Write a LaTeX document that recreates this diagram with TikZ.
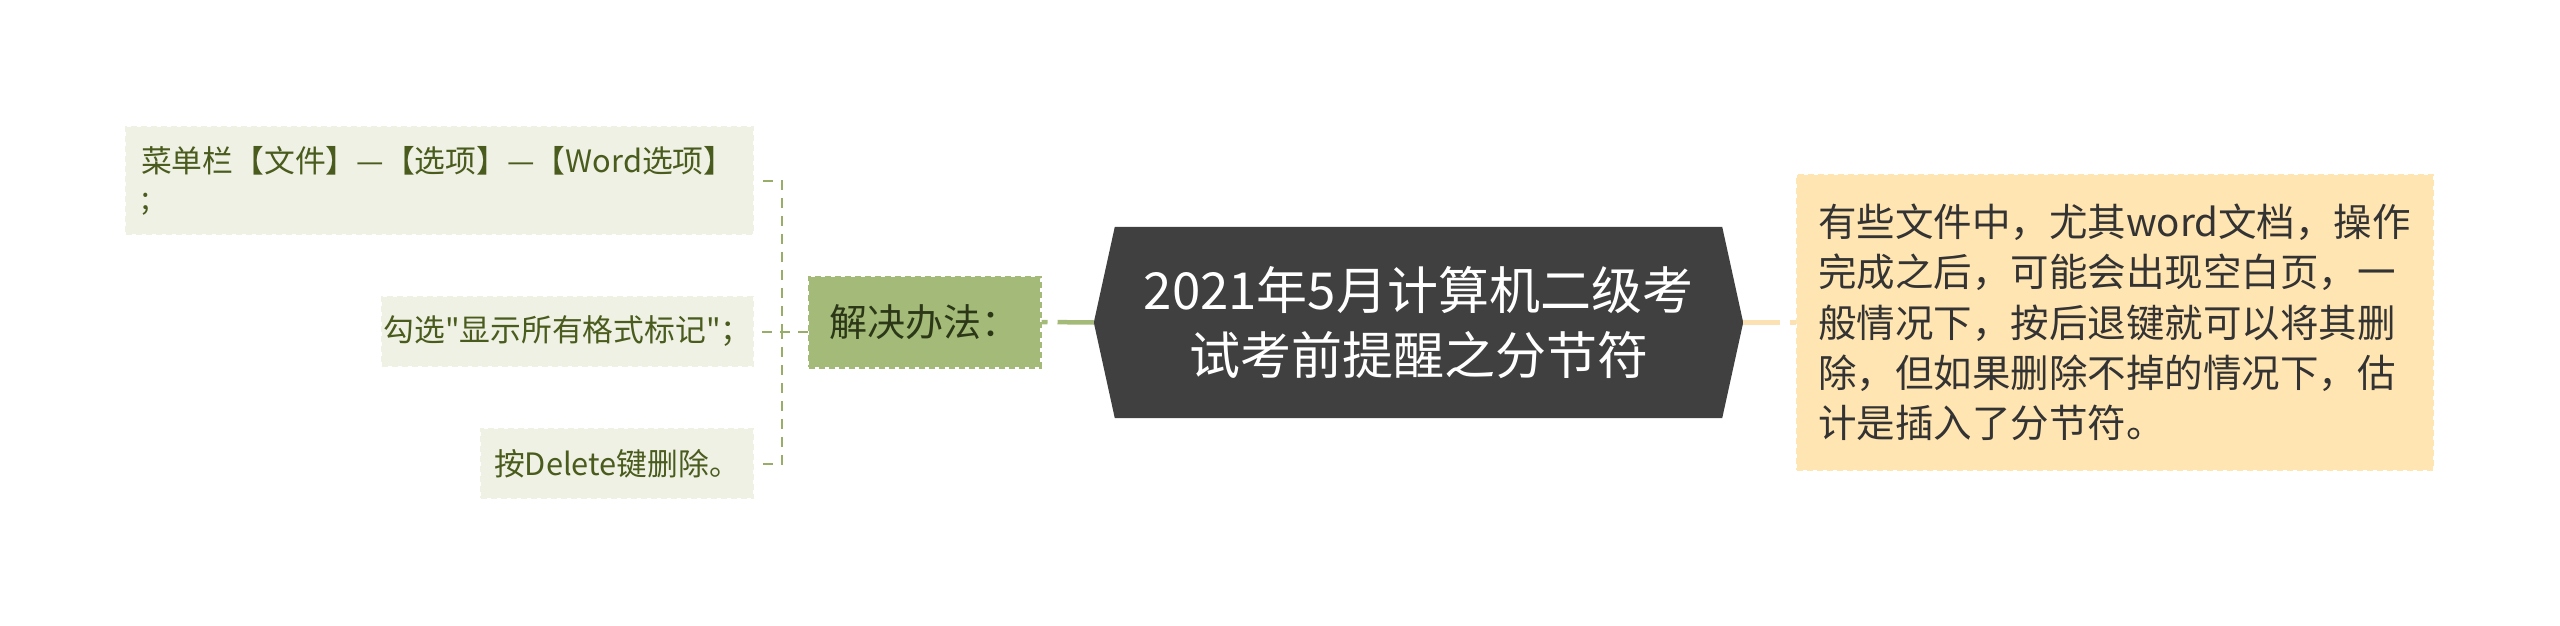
\documentclass[tikz,border=0pt]{standalone}
\usepackage{fontspec}
\newfontfamily\cjk{Noto Sans CJK SC}
\usetikzlibrary{backgrounds}
\definecolor{leaffill}{HTML}{EEF1E3}
\definecolor{leaftext}{HTML}{4A5B1E}
\definecolor{olive}{HTML}{97AD68}
\definecolor{jjfill}{HTML}{A3BA78}
\definecolor{jjtext}{HTML}{2B3716}
\definecolor{ctrfill}{HTML}{404040}
\definecolor{rbfill}{HTML}{FFE5B2}
\definecolor{rlinec}{HTML}{FCE2B3}
\definecolor{rbtext}{HTML}{333333}
\begin{document}
\begin{tikzpicture}[x=1pt,y=-1pt,
  leafbox/.style={rectangle, fill=leaffill, draw=leaffill, dash pattern=on 6pt off 4pt,
    line width=2pt, text=leaftext, font=\cjk\fontsize{30.8}{37}\selectfont,
    inner xsep=0pt, inner ysep=0pt, anchor=east, minimum height=69pt},
  jjbox/.style={rectangle, fill=jjfill, draw=jjfill, dash pattern=on 6pt off 4pt,
    line width=3pt, text=jjtext, font=\cjk\fontsize{38}{46}\selectfont,
    inner sep=0pt, minimum width=231pt, minimum height=90pt},
  titlebox/.style={rectangle, text=white, font=\cjk\fontsize{51}{65}\selectfont,
    align=center, inner sep=0pt, minimum width=649pt, minimum height=191pt},
  rbox/.style={rectangle, fill=rbfill, draw=rbfill, dash pattern=on 6pt off 4pt,
    line width=2pt, text=rbtext, font=\cjk\fontsize{38.5}{50.25}\selectfont,
    inner xsep=21pt, inner ysep=0pt, text width=594pt, align=left,
    minimum width=636pt, minimum height=295pt},
  conn/.style={draw=olive, line width=2pt, dash pattern=on 10pt off 8pt},
  jjline/.style={draw=jjfill, line width=4.5pt, dash pattern=on 6pt off 10pt on 100pt off 1pt},
  rline/.style={draw=rlinec, line width=5pt, dash pattern=on 37pt off 10pt on 30pt off 1pt}
]
\useasboundingbox (0,0) rectangle (2560,626);

% left leaves
\node[leafbox, minimum width=627pt, minimum height=107pt, inner xsep=15pt,
      text width=597pt, align=left] (l1) at (754,180.5)
  {菜单栏【文件】—【选项】—【Word选项】\\;};
\node[leafbox, minimum width=371pt] (l2) at (754,331.5) {勾选"显示所有格式标记"；};
\node[leafbox, minimum width=272pt] (l3) at (754,463.5) {按Delete键删除。};

% first-level left node
\node[jjbox] (jj) at (924.5,322) {解决办法：};

% central topic
\node[titlebox] (title) at (1418.5,322.5) {2021年5月计算机二级考\\试考前提醒之分节符};
\begin{pgfonlayer}{background}
\fill[ctrfill] (title.west) -- ([xshift=21pt]title.north west) -- ([xshift=-21pt]title.north east)
  -- (title.east) -- ([xshift=-21pt]title.south east) -- ([xshift=21pt]title.south west) -- cycle;
\end{pgfonlayer}

% right node
\node[rbox] (rb) at (2115,322.5)
  {有些文件中，尤其word文档，操作\\完成之后，可能会出现空白页，一\\般情况下，按后退键就可以将其删\\除，但如果删除不掉的情况下，估\\计是插入了分节符。};

% connectors
\coordinate (bus) at (782,332);
\draw[conn] (jj.west |- l2.east) -- (l2.east);
\draw[conn] ([xshift=9pt]l1.east) -| (bus);
\draw[conn] ([xshift=9pt]l3.east) -| (bus);
\draw[jjline] (jj.east) -- (title.west);
\draw[rline] (title.east) -- (rb.west);
\end{tikzpicture}
\end{document}
